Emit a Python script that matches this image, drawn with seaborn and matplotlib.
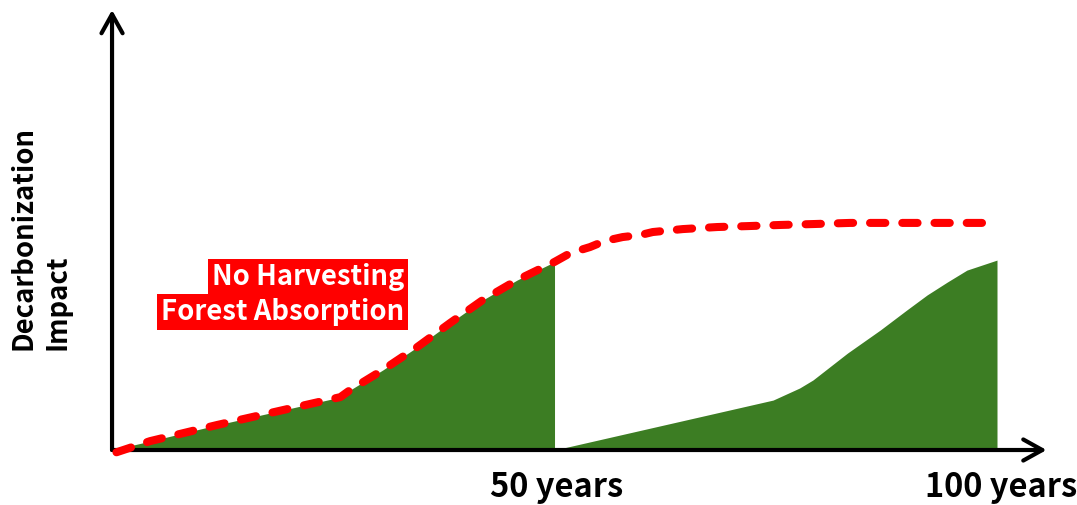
import matplotlib
matplotlib.use("Agg")
import matplotlib.pyplot as plt
import seaborn as sns

# first rotation: forest grows until harvest at 50 years
grow1_years = [0, 4.3, 11.9, 19.3, 25.8, 26.9, 30.6, 34.5, 38.2, 41.9, 45.8, 50]
grow1_impact = [0, 3.9, 11.0, 17.5, 23.2, 26.3, 35.1, 45.2, 55.7, 65.8, 74.6, 82.5]

# second rotation after replanting
grow2_years = [50, 74.7, 77.7, 79.2, 83.1, 86.8, 89.8, 92.1, 94.4, 96.6, 100]
grow2_impact = [0, 21.9, 27.2, 30.7, 42.5, 52.6, 61.4, 68.0, 73.7, 78.9, 83.3]

# no harvesting absorption (dashed)
noharv_years = [0.5, 4.3, 11.9, 19.3, 25.8, 26.9, 30.6, 34.5, 38.2, 41.9, 45.8, 50,
                51.8, 54.0, 55.7, 57.7, 59.7, 61.1, 64.5, 68.4, 71.8, 75.5, 79.2, 83.4, 98.4]
noharv_impact = [-1, 3.9, 11.0, 17.5, 23.2, 26.3, 35.1, 45.2, 55.7, 65.8, 74.6, 82.5,
                 86.4, 89.0, 91.7, 93.4, 94.3, 95.6, 96.9, 97.8, 98.2, 98.7, 99.1, 99.6, 99.6]

tick_years = [50.2, 100.5]
tick_labels = ["50 years", "100 years"]

GREEN = "#3c7d23"
RED = "#ff0000"

sns.set_style("white")
plt.rcParams["font.family"] = ["Noto Sans CJK JP", "DejaVu Sans"]

fig = plt.figure(figsize=(10.77, 5.05), dpi=100)
ax = fig.add_axes([0, 0, 1, 1])
ax.set_xlim(-12.66, 109.04)
ax.set_ylim(-24.12, 197.37)
ax.axis("off")

ax.fill_between(grow1_years, 0, grow1_impact, color=GREEN, linewidth=0, zorder=1)
ax.fill_between(grow2_years, 0, grow2_impact, color=GREEN, linewidth=0, zorder=1)

sns.lineplot(x=noharv_years, y=noharv_impact, ax=ax, color=RED, linewidth=5.8,
             linestyle=(0, (1.9, 2.1)), dash_capstyle="round", zorder=4)

arrow = dict(arrowstyle="->,head_length=0.36,head_width=0.2", lw=3, color="black",
             mutation_scale=38, shrinkA=0, shrinkB=0)
ax.annotate("", xy=(105.6, 0), xytext=(0, 0), arrowprops=arrow, zorder=3)
ax.annotate("", xy=(0, 193), xytext=(0, 0), arrowprops=arrow, zorder=3)

for x, lab in zip(tick_years, tick_labels):
    ax.text(x, -16.5, lab, ha="center", va="center", fontsize=23.5, fontweight="bold",
            color="black")

ax.text(-8.1, 43.9, "Decarbonization\nImpact", rotation=90, ha="center", va="bottom",
        multialignment="left", fontsize=19.8, fontweight="bold", linespacing=1.25,
        color="black")

box = dict(boxstyle="square,pad=0.14", facecolor=RED, edgecolor="none")
ax.text(33.0, 75.9, "No Harvesting", ha="right", va="center", color="white",
        fontsize=19.8, fontweight="bold", bbox=box, zorder=5)
ax.text(33.0, 60.6, "Forest Absorption", ha="right", va="center", color="white",
        fontsize=19.8, fontweight="bold", bbox=box, zorder=5)

fig.savefig("out.png", dpi=100)
